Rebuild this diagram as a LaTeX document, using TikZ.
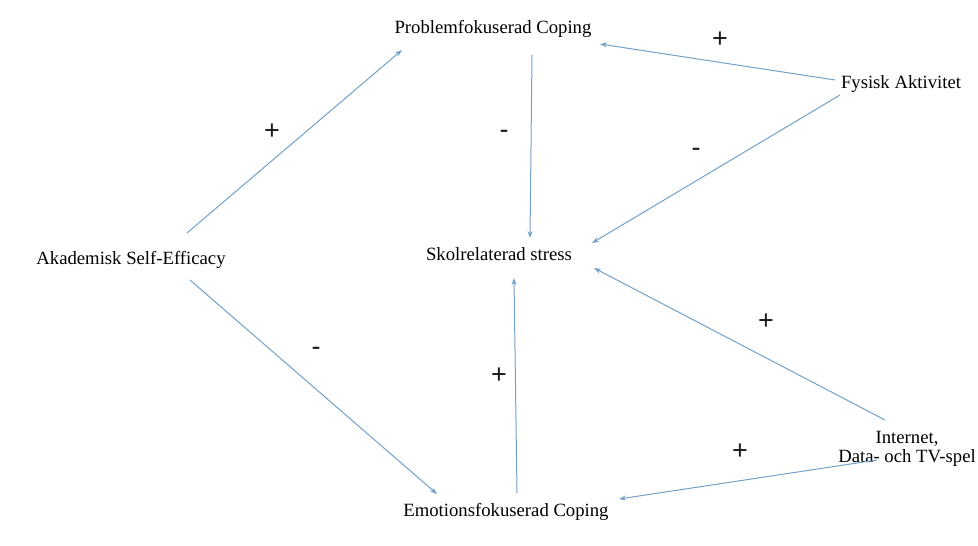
\documentclass[tikz,border=0pt]{standalone}
\usepackage{fontspec}
\setmainfont{Liberation Serif}
\newfontfamily\signfont{Liberation Sans}
\usetikzlibrary{arrows.meta,calc}
\definecolor{arrowblue}{RGB}{115,160,200}
\tikzset{
  lbl/.style={inner sep=0pt, font=\fontsize{18.7}{22}\selectfont, text=black, align=center},
  sign/.style={inner sep=0pt, font=\signfont\fontsize{27}{28}\selectfont, text=black!90},
  conn/.style={draw=arrowblue, line width=1pt, -{Stealth[length=7pt,width=5pt]}}
}
\begin{document}
\begin{tikzpicture}[x=1pt,y=-1pt]
\useasboundingbox (0,0) rectangle (978,546);
\node[lbl] (pfc) at (493,29) {Problemfokuserad Coping};
\node[lbl] (fa) at (901,84) {Fysisk Aktivitet};
\node[lbl] (ase) at (131,260) {Akademisk Self-Efficacy};
\node[lbl] (srs) at (499,254) {Skolrelaterad stress};
\node[lbl] (efc) at (506,512) {Emotionsfokuserad Coping};
\node[lbl] (int) at (907,449) {Internet,\\[-3pt]Data- och TV-spel};

\draw[conn] ($(ase)+(56,-27)$) -- ($(pfc)+(-91,21)$);
\draw[conn] ($(ase)+(59,20)$) -- ($(efc)+(-69,-18)$);
\draw[conn] ($(pfc)+(39,26)$) -- ($(srs)+(31,-16)$);
\draw[conn] ($(fa)+(-66,-4)$) -- ($(pfc)+(107,15)$);
\draw[conn] ($(fa)+(-61,11)$) -- ($(srs)+(93,-11)$);
\draw[conn] ($(efc)+(11,-19)$) -- ($(srs)+(15,24)$);
\draw[conn] ($(int)+(-22,-29)$) -- ($(srs)+(95,14)$);
\draw[conn] ($(int)+(-30,11)$) -- ($(efc)+(113,-13)$);

\node[sign] (s1) at (272,132) {+};
\node[sign] (s2) at (316,351) {-};
\node[sign] (s3) at (504,134) {-};
\node[sign] (s4) at (720,40) {+};
\node[sign] (s5) at (696,152) {-};
\node[sign] (s6) at (766,322) {+};
\node[sign] (s7) at (499,376) {+};
\node[sign] (s8) at (740,452) {+};
\end{tikzpicture}
\end{document}
